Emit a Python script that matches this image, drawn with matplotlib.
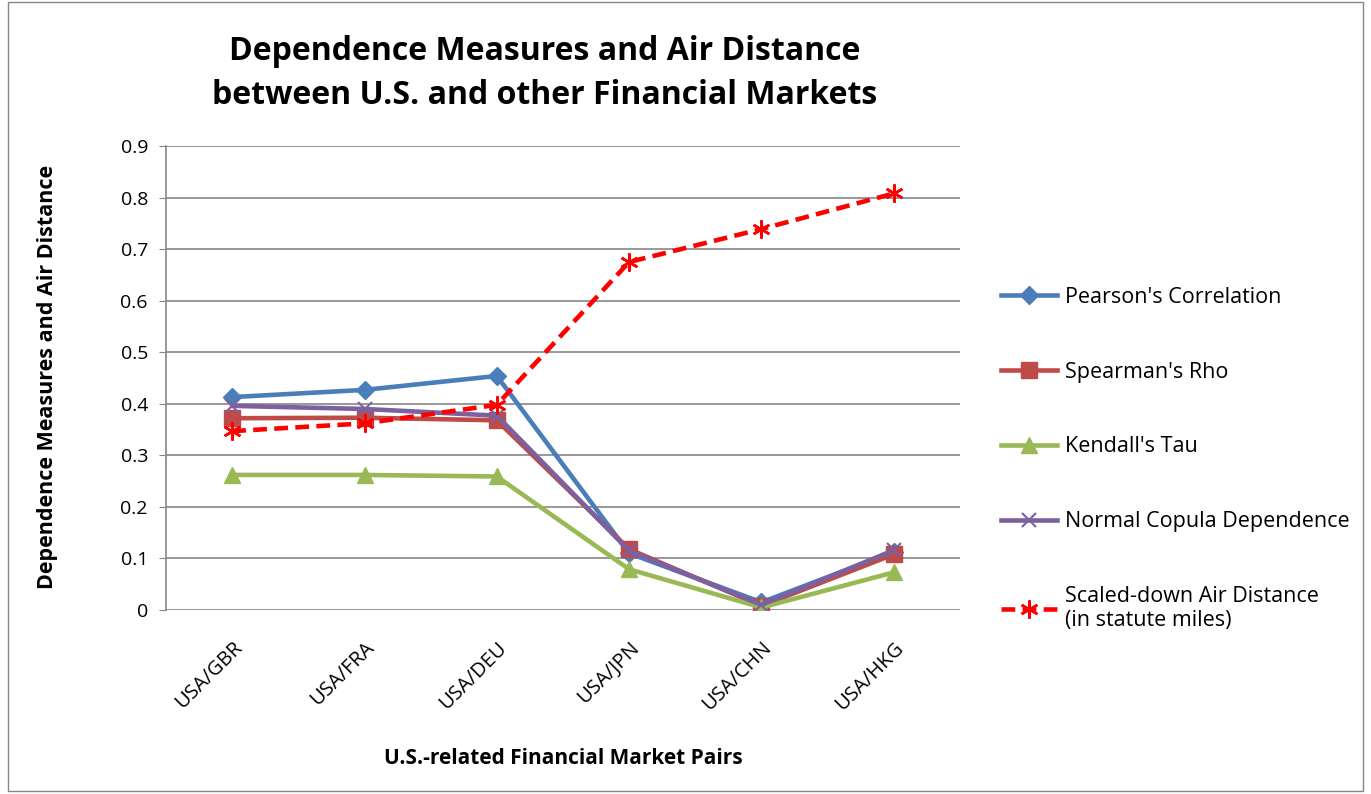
import numpy as np
import matplotlib
matplotlib.use('Agg')
from matplotlib import pyplot as plt
from matplotlib.patches import Rectangle

pairs = ['USA/GBR', 'USA/FRA', 'USA/DEU', 'USA/JPN', 'USA/CHN', 'USA/HKG']
pearson = [0.413, 0.427, 0.454, 0.110, 0.015, 0.113]
spearman = [0.372, 0.373, 0.368, 0.118, 0.008, 0.108]
kendall = [0.262, 0.262, 0.259, 0.079, 0.005, 0.073]
copula = [0.396, 0.390, 0.377, 0.115, 0.010, 0.116]
air = [0.347, 0.362, 0.398, 0.675, 0.739, 0.808]

plt.rcParams['font.family'] = ['Open Sans', 'DejaVu Sans']

fig = plt.figure(figsize=(13.71, 7.94), dpi=100)
ax = fig.add_axes([0.1211, 0.2317, 0.5791, 0.5844])

x = np.arange(len(pairs))
ax.plot(x, pearson, color='#4A7EBB', lw=3.3, marker='D', ms=9, label="Pearson's Correlation")
ax.plot(x, spearman, color='#BE4B48', lw=3.3, marker='s', ms=11, label="Spearman's Rho")
ax.plot(x, kendall, color='#98B954', lw=3.3, marker='^', ms=12, label="Kendall's Tau")
ax.plot(x, copula, color='#7D60A0', lw=3.3, marker='x', ms=10, mew=1.5, label="Normal Copula Dependence")
ax.plot(x, air, color='#FF0000', lw=3.3, ls=(0, (3, 1.6)), marker=(6, 2, 0), ms=13, mew=1.8,
        label="Scaled-down Air Distance\n(in statute miles)")

ax.set_xlim(-0.5, len(pairs) - 0.5)
ax.set_ylim(0, 0.9)
ax.set_yticks(np.arange(0, 0.91, 0.1))
ax.set_yticklabels(['0' if v == 0 else '%.1f' % v for v in np.arange(0, 0.91, 0.1)], fontsize=14)
ax.set_xticks(x)
ax.set_xticklabels(pairs, rotation=45, ha='right', rotation_mode='anchor', fontsize=14.5)
ax.tick_params(axis='x', length=0, pad=20)
ax.tick_params(axis='y', length=5, color='#868686', pad=8)
ax.grid(axis='y', color='#868686', lw=1.2)
ax.set_axisbelow(True)
for s in ['top', 'right', 'bottom']:
    ax.spines[s].set_visible(False)
ax.spines['left'].set_color('#868686')
ax.spines['left'].set_linewidth(1.2)

fig.text(0.397, 0.907, 'Dependence Measures and Air Distance\nbetween U.S. and other Financial Markets',
         ha='center', va='center', fontsize=23, fontweight='bold', linespacing=1.45)
fig.text(0.035, 0.525, 'Dependence Measures and Air Distance', rotation=90, ha='center', va='center',
         fontsize=15.5, fontweight='bold')
fig.text(0.411, 0.045, 'U.S.-related Financial Market Pairs', ha='center', va='center',
         fontsize=15, fontweight='bold')

fig.legend(loc='center left', bbox_to_anchor=(0.716, 0.422), frameon=False, fontsize=15.5,
           labelspacing=2.5, handlelength=2.6, handletextpad=0.35)

fig.patches.append(Rectangle((0.006, 0.004), 0.988, 0.994, transform=fig.transFigure,
                             fill=False, edgecolor='#868686', lw=1))

fig.savefig('out.png', dpi=100)
